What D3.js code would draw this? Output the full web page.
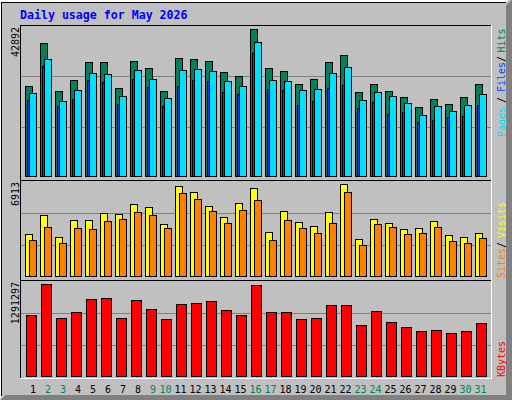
<!DOCTYPE html>
<html><head><meta charset="utf-8">
<script src="https://cdn.jsdelivr.net/npm/d3@7/dist/d3.min.js"></script>
<style>html,body{margin:0;padding:0;background:#c0c0c0;overflow:hidden}</style>
</head><body><div id="chart"></div>
<script>
// ---- data ----
const title = "Daily usage for May 2026";
const days = [1,2,3,4,5,6,7,8,9,10,11,12,13,14,15,16,17,18,19,20,21,22,23,24,25,26,27,28,29,30,31];
const weekendDays = [2,3,9,10,16,17,23,24,30,31];
const hits  = [26260,38808,24802,28011,33264,33150,25677,33555,31513,24750,34431,34139,33500,30346,29179,42892,31480,30638,26844,28303,33220,35306,24510,26810,24780,23051,20133,22467,21009,23020,26870];
const files = [22176,32096,20425,22467,28011,27428,21009,28303,25969,20400,26260,27990,27720,24510,23926,35890,25385,25094,20717,21884,25677,26553,19841,21592,18091,18674,15756,16340,17215,17507,20690];
const pages = [24218,34139,21884,25094,30054,29762,23343,30929,28303,22759,30900,31221,30638,27720,26260,39099,28011,27700,25060,25385,30020,31805,22176,24510,23320,21300,17799,20425,18966,20717,23926];
const visits = [3156,4584,2931,4208,4190,4734,4659,5410,5185,3907,6763,6312,5260,4433,5485,6612,3306,4884,4058,3757,4809,6913,2780,4283,3982,3532,3607,4133,3081,2920,3231];
const sites  = [2705,3682,2480,3607,3532,4133,4283,4809,4584,3600,6237,5786,4884,3982,4959,5711,2700,4208,3610,3231,3975,6312,2329,3907,3682,3156,3225,3690,2630,2475,2855];
const kbytes = [856184,1291297,814076,898291,1080757,1094792,813500,1066721,940399,800041,1010578,1024613,1052685,926363,855600,1277258,897800,898700,800500,814400,996542,997000,715826,912327,757933,687754,631611,645647,603539,632000,743897];
const gridFractions = [0.333, 0.68];

// ---- colours ----
const C = {grey:"#c0c0c0", dk:"#808080", hit:"#00805c", file:"#0040ff", page:"#00e0ff",
           visit:"#ffff00", site:"#ff8000", kb:"#ff0000", title:"#0000ff"};
const MONO = "'DejaVu Sans Mono','Liberation Mono',monospace";

const svg = d3.select("#chart").append("svg")
  .attr("width",512).attr("height",400)
  .attr("shape-rendering","crispEdges");

function hline(x1,x2,y,col){svg.append("rect").attr("x",x1).attr("y",y).attr("width",x2-x1+1).attr("height",1).attr("fill",col);}
function vline(x0,y1,y2,col){svg.append("rect").attr("x",x0).attr("y",y1).attr("width",1).attr("height",y2-y1+1).attr("fill",col);}

// background + bevel
svg.append("rect").attr("x",0).attr("y",0).attr("width",512).attr("height",400).attr("fill",C.grey);
svg.append("polygon").attr("points","512,0 512,400 0,400 5,395 506,395 506,5").attr("fill",C.dk);
svg.append("rect").attr("x",2).attr("y",2).attr("width",504).attr("height",393).attr("fill",C.grey);
hline(0,507,0,"#fff"); hline(0,506,1,"#fff");
vline(0,0,397,"#fff");
hline(1,505,2,"#000");
vline(1,2,395,"#000");

// title
svg.append("text").attr("x",20).attr("y",19)
  .attr("font-family",MONO).attr("font-weight","bold").attr("font-size",11.6)
  .attr("fill",C.title).text(title);

// scales
const x = d3.scaleLinear().domain([1,31]).range([25,475]);
const yHits = d3.scaleLinear().domain([0,d3.max(hits)]).range([176,29]);
const yVis  = d3.scaleLinear().domain([0,d3.max(visits)]).range([276,184]);
const yKb   = d3.scaleLinear().domain([0,d3.max(kbytes)]).range([376,284]);

// grid lines
[yHits,yVis,yKb].forEach(s=>{
  const mx = s.domain()[1];
  gridFractions.forEach(f=>hline(21,490,Math.round(s(mx*f)),C.dk));
});

// frame
hline(20,491,25,"#000");
vline(20,25,378,"#000");
vline(491,25,378,"#fff");
hline(20,491,378,"#fff");
hline(21,490,180,"#000");
hline(21,490,280,"#000");

// gd-style bars
function bars(data, yScale, base, dx, w, col, cls){
  const g = svg.append("g").attr("class",cls);
  const sel = g.selectAll("g").data(days.map((d,i)=>({d, v:data[i]}))).join("g");
  sel.append("rect")
    .attr("x",d=>x(d.d)+dx).attr("y",d=>Math.round(yScale(d.v)))
    .attr("width",w).attr("height",d=>base-Math.round(yScale(d.v))+1).attr("fill","#000");
  sel.append("rect")
    .attr("x",d=>x(d.d)+dx+1).attr("y",d=>Math.round(yScale(d.v))+1)
    .attr("width",w-2).attr("height",d=>Math.max(0,base-Math.round(yScale(d.v))-1)).attr("fill",col);
}
bars(hits,  yHits,176,0,8,C.hit,"hits");
bars(files, yHits,176,2,8,C.file,"files");
bars(pages, yHits,176,4,8,C.page,"pages");
bars(visits,yVis,276,0,8,C.visit,"visits");
bars(sites, yVis,276,4,8,C.site,"sites");
bars(kbytes,yKb,376,1,11,C.kb,"kbytes");

// day labels
svg.append("g").selectAll("text").data(days).join("text")
  .attr("x",d=>x(d)+(d<10?8:5.5)).attr("y",393)
  .attr("text-anchor","middle").attr("font-family",MONO).attr("font-size",10)
  .attr("fill",d=>weekendDays.includes(d)?C.hit:"#000").text(d=>d);

// max value labels (rotated)
function upText(xx,yy,txt,col,anchor){
  svg.append("text").attr("transform",`translate(${xx},${yy}) rotate(-90)`)
    .attr("text-anchor",anchor).attr("font-family",MONO).attr("font-size",10)
    .attr("fill",col).text(txt);
}
upText(19,27,String(d3.max(hits)),"#000","end");
upText(19,182,String(d3.max(visits)),"#000","end");
upText(19,282,String(d3.max(kbytes)),"#000","end");

// right legends
upText(504.5,40.5,"Hits",C.hit,"middle");
upText(504.5,59,"/","#000","middle");
upText(504.5,77,"Files",C.file,"middle");
upText(504.5,100,"/","#000","middle");
upText(504.5,122,"Pages",C.page,"middle");
upText(504.5,220,"Visits",C.visit,"middle");
upText(504.5,245,"/","#000","middle");
upText(504.5,263,"Sites",C.site,"middle");
upText(504.5,359,"KBytes",C.kb,"middle");
</script></body></html>
